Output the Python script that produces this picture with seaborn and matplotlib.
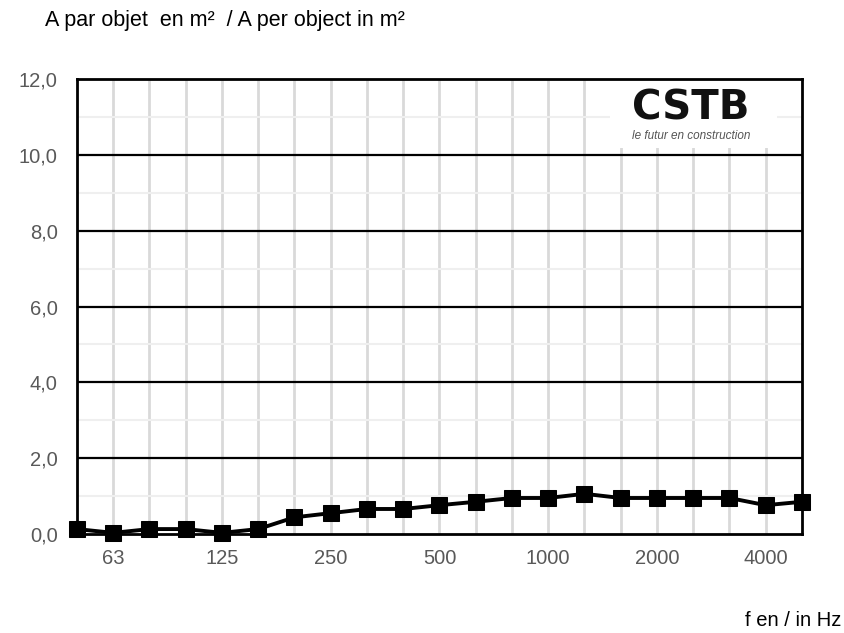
import numpy as np
import pandas as pd
import seaborn as sns
import matplotlib.pyplot as plt
from matplotlib.patches import Rectangle
from matplotlib.ticker import FuncFormatter, MultipleLocator

# third-octave bands and absorption area per object
freqs = ['50', '63', '80', '100', '125', '160', '200', '250', '315', '400', '500',
         '630', '800', '1000', '1250', '1600', '2000', '2500', '3150', '4000', '5000']
area = [0.13, 0.03, 0.13, 0.13, 0.03, 0.13, 0.44, 0.55, 0.66, 0.66, 0.76,
        0.85, 0.95, 0.95, 1.06, 0.95, 0.95, 0.95, 0.95, 0.76, 0.85]
shown_labels = ['63', '125', '250', '500', '1000', '2000', '4000']

df = pd.DataFrame({'idx': np.arange(len(freqs)), 'freq': freqs, 'A': area})

sns.set_theme(style="white")
plt.rcParams['font.family'] = ['Liberation Sans', 'DejaVu Sans']

fig = plt.figure(figsize=(8.45, 6.33), dpi=100)
ax = fig.add_axes([0.0911, 0.1564, 0.8580, 0.7186])

sns.lineplot(data=df, x='idx', y='A', ax=ax, color='black', linewidth=2.8,
             marker='s', markersize=11.5, markeredgecolor='black', zorder=5, clip_on=False)

ax.set_xlim(0, len(freqs) - 1)
ax.set_ylim(0, 12)

# grid: light vertical at every band, black major / light minor horizontal
for i in range(1, len(freqs) - 1):
    ax.axvline(i, color='#d9d9d9', lw=2, zorder=1)
for y in np.arange(1, 12, 2):
    ax.axhline(y, color='#efefef', lw=1.5, zorder=1)
for y in np.arange(2, 12, 2):
    ax.axhline(y, color='black', lw=1.6, zorder=3)

ticks = [freqs.index(l) for l in shown_labels]
ax.set_xticks(ticks)
ax.set_xticklabels(shown_labels)
ax.yaxis.set_major_locator(MultipleLocator(2))
ax.yaxis.set_major_formatter(FuncFormatter(lambda v, p: f"{v:.1f}".replace('.', ',')))
ax.tick_params(axis='both', length=0, labelsize=14.5, colors='#595959')
ax.tick_params(axis='y', pad=14)
ax.tick_params(axis='x', pad=11)
ax.set_xlabel('')
ax.set_ylabel('')

for s in ax.spines.values():
    s.set_color('black')
    s.set_linewidth(2)
    s.set_zorder(4)

fig.text(0.053, 0.968, 'A par objet  en m²  / A per object in m²', fontsize=15.5,
         color='black', va='center', ha='left')
fig.text(0.996, 0.020, 'f en / in Hz', fontsize=14.5, color='black',
         va='center', ha='right')

# logo block: white patch hides the light grid, black lines stay on top
ax.add_patch(Rectangle((0.735, 0.848), 0.231, 0.152, transform=ax.transAxes,
                       facecolor='white', edgecolor='none', zorder=2))
ax.text(0.8466, 0.936, 'CSTB', transform=ax.transAxes, fontsize=29, fontweight='bold',
        family='DejaVu Sans', color='#111111', ha='center', va='center', zorder=2.2)
ax.text(0.8466, 0.874, 'le futur en construction', transform=ax.transAxes, fontsize=8.5,
        style='italic', color='#555555', ha='center', va='center', zorder=2.2)

fig.savefig('out.png', dpi=100)
